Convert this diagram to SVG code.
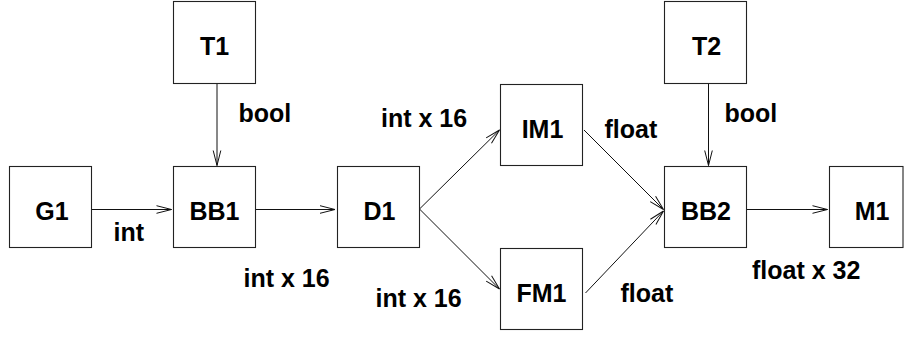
<svg xmlns="http://www.w3.org/2000/svg" width="904" height="338" viewBox="0 0 904 338">
  <style>
    .box { fill: #fff; stroke: #222; stroke-width: 1.1; }
    .name { font-family: "Liberation Sans", Arial, sans-serif; font-weight: bold; font-size: 25px; fill: #000; text-anchor: middle; }
    .lbl { font-family: "Liberation Sans", Arial, sans-serif; font-weight: bold; font-size: 25px; fill: #000; }
    .edge { fill: none; stroke: #111; stroke-width: 1; marker-end: url(#vhead); }
  </style>
  <defs>
    <marker id="vhead" markerUnits="userSpaceOnUse" markerWidth="20" markerHeight="12" viewBox="-16 -6 18 12" refX="0" refY="0" orient="auto">
      <path d="M-15,-3.8 L0,0 L-15,3.8" fill="none" stroke="#111" stroke-width="1"/>
    </marker>
  </defs>
  <rect width="904" height="338" fill="#fff"/>

  <g id="connectors">
    <path class="edge" d="M217,83.5 V165.5"/>
    <path class="edge" d="M91.5,209.5 H171.5"/>
    <path class="edge" d="M255.5,209.5 H335"/>
    <path class="edge" d="M419.5,209 L499.5,130"/>
    <path class="edge" d="M419.5,209 L499.5,289"/>
    <path class="edge" d="M584,130 L663.5,209.5"/>
    <path class="edge" d="M585.5,293 L663.5,211"/>
    <path class="edge" d="M708.5,83.5 V165.5"/>
    <path class="edge" d="M746.5,209.5 H827.5"/>
  </g>

  <g id="edge-labels">
    <text class="lbl" x="238.5" y="122">bool</text>
    <text class="lbl" x="113.5" y="241">int</text>
    <text class="lbl" x="243.5" y="286.5">int x 16</text>
    <text class="lbl" x="381" y="127">int x 16</text>
    <text class="lbl" x="375.5" y="307">int x 16</text>
    <text class="lbl" x="604.5" y="138">float</text>
    <text class="lbl" x="620.5" y="302">float</text>
    <text class="lbl" x="724.5" y="122">bool</text>
    <text class="lbl" x="752" y="278.5">float x 32</text>
  </g>

  <g id="T1"><rect class="box" x="173.5" y="1.5" width="82" height="82"/><text class="name" x="214.5" y="55">T1</text></g>
  <g id="G1"><rect class="box" x="9.5" y="166.5" width="82" height="81"/><text class="name" x="52" y="220">G1</text></g>
  <g id="BB1"><rect class="box" x="173.5" y="166.5" width="82" height="81"/><text class="name" x="214.5" y="220">BB1</text></g>
  <g id="D1"><rect class="box" x="337.5" y="166.5" width="82" height="81"/><text class="name" x="379.5" y="220">D1</text></g>
  <g id="IM1"><rect class="box" x="500.5" y="84.5" width="82" height="81"/><text class="name" x="542.5" y="138">IM1</text></g>
  <g id="FM1"><rect class="box" x="500.5" y="248.5" width="82" height="81"/><text class="name" x="541.5" y="302">FM1</text></g>
  <g id="T2"><rect class="box" x="664.5" y="1.5" width="82" height="82"/><text class="name" x="706.5" y="55">T2</text></g>
  <g id="BB2"><rect class="box" x="664.5" y="166.5" width="82" height="81"/><text class="name" x="706" y="220">BB2</text></g>
  <g id="M1"><rect class="box" x="829.5" y="166.5" width="73.5" height="81"/><text class="name" x="872" y="220">M1</text></g>
</svg>
